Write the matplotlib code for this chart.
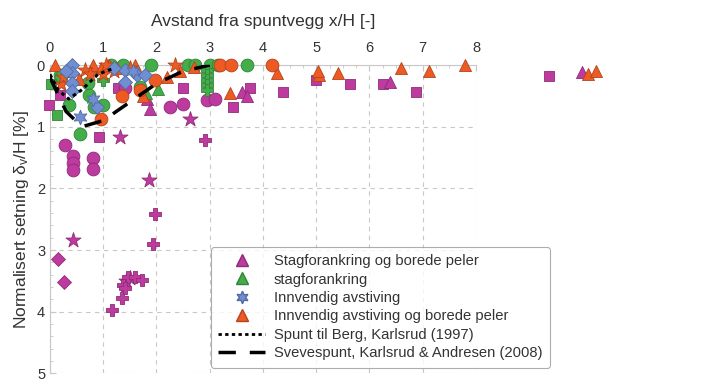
import matplotlib

matplotlib.use("Agg")

import matplotlib.pyplot as plt  # noqa: E402
from matplotlib.lines import Line2D  # noqa: E402
from matplotlib.ticker import MultipleLocator  # noqa: E402

plt.rcParams["font.family"] = ["Liberation Sans", "DejaVu Sans"]
plt.rcParams["mathtext.fontset"] = "custom"
plt.rcParams["mathtext.rm"] = "Liberation Sans"
plt.rcParams["mathtext.it"] = "Liberation Sans"

# Colours
_MAG = "#bd3a9e"
_GRN = "#43ad4a"
_BLU = "#6f8fd2"
_ORG = "#ee5a24"
_GRID = "#c8c8c8"
_FG = "#333333"

STAR6 = (6, 1, 0)

# --- Stagforankring og borede peler (magenta) ---
mag_sq_x = [-0.02, 0.19, 0.92, 1.27, 2.5, 3.44, 3.75, 4.38, 5.0, 5.63, 6.25, 6.88, 9.38]
mag_sq_y = [0.65, 0.48, 1.16, 0.37, 0.37, 0.68, 0.37, 0.43, 0.24, 0.30, 0.30, 0.43, 0.17]
mag_ci_x = [0.28, 0.43, 0.43, 0.43, 0.80, 0.80, 1.41, 2.25, 2.5, 2.94, 3.1]
mag_ci_y = [1.30, 1.48, 1.59, 1.70, 1.51, 1.68, 0.37, 0.68, 0.63, 0.56, 0.55]
mag_tr_x = [1.82, 1.88, 3.6, 3.7, 6.38, 10.0]
mag_tr_y = [0.55, 0.72, 0.44, 0.50, 0.27, 0.11]
mag_st_x = [1.31, 1.86, 2.63, 0.43, 1.5, 1.42]
mag_st_y = [1.16, 1.87, 0.87, 2.83, 3.45, 3.50]
mag_pl_x = [1.97, 1.93, 2.91, 1.16, 1.35, 1.37, 1.46, 1.6, 1.73, 1.4]
mag_pl_y = [2.41, 2.90, 1.22, 3.97, 3.78, 3.57, 3.44, 3.44, 3.49, 3.62]
mag_di_x = [0.15, 0.26]
mag_di_y = [3.14, 3.52]

# --- stagforankring (green) ---
grn_ci_x = [0.19, 0.2, 0.36, 0.56, 0.71, 0.73, 0.83, 1.0, 1.15, 1.38, 1.69, 1.9, 2.6, 2.72, 3.0, 3.15, 3.7]
grn_ci_y = [0.16, 0.20, 0.65, 1.11, 0.29, 0.49, 0.68, 0.65, 0.0, 0.0, 0.35, 0.0, 0.0, 0.0, 0.0, 0.0, 0.0]
grn_sq_x = [0.13, 0.02]
grn_sq_y = [0.81, 0.30]
grn_tr_x = [2.03, 1.8]
grn_tr_y = [0.38, 0.45]
grn_pl_x = [2.95, 2.95, 2.95, 2.95, 2.95, 1.0]
grn_pl_y = [0.08, 0.16, 0.24, 0.32, 0.40, 0.24]

# --- Innvendig avstiving (blue) ---
blu_di_x = [0.41, 0.41, 0.41, 0.41, 0.3, 1.41, 1.41, 1.63, 1.78, 0.88, 1.2]
blu_di_y = [0.0, 0.13, 0.29, 0.42, 0.10, 0.08, 0.27, 0.16, 0.16, 0.68, 0.05]
blu_st_x = [0.56, 0.8, 1.55]
blu_st_y = [0.84, 0.55, 0.10]

# --- Innvendig avstiving og borede peler (orange) ---
org_tr_x = [0.1, 0.35, 0.55, 0.8, 0.95, 1.1, 1.25, 1.6, 1.75, 2.2, 2.45, 2.7,
            3.38, 4.26, 5.05, 5.03, 5.4, 6.6, 7.12, 7.8, 10.1, 10.25]
org_tr_y = [0.0, 0.1, 0.22, 0.0, 0.05, 0.0, 0.05, 0.0, 0.5, 0.2, 0.1, 0.03,
            0.45, 0.13, 0.16, 0.10, 0.13, 0.05, 0.10, 0.0, 0.15, 0.10]
org_ci_x = [1.35, 1.97, 3.2, 3.4, 4.17, 0.95, 1.7]
org_ci_y = [0.50, 0.24, 0.0, 0.0, 0.0, 0.88, 0.40]
org_st_x = [0.65, 0.75, 1.0, 1.05, 1.2, 2.35, 1.5, 0.2, 0.25]
org_st_y = [0.08, 0.15, 0.15, 0.0, 0.10, 0.0, 0.05, 0.30, 0.20]

# --- Reference curves ---
berg_x = [0.0, 0.15, 0.35, 0.6, 0.9, 1.2]
berg_y = [0.15, 0.40, 0.55, 0.40, 0.15, 0.05]
sveve_x = [0.0, 0.3, 0.6, 1.0, 1.5, 2.0, 2.5, 3.0]
sveve_y = [0.2, 0.75, 1.0, 0.9, 0.6, 0.3, 0.1, 0.0]


def darker(c, f=0.75):
    r, g, b = matplotlib.colors.to_rgb(c)
    return (r * f, g * f, b * f)


fig = plt.figure(figsize=(7.19, 3.85), dpi=100, facecolor="white")
ax = fig.add_axes([0.0695, 0.03, 0.5925, 0.801])

groups = [
    (_MAG, [(mag_sq_x, mag_sq_y, "s"), (mag_ci_x, mag_ci_y, "o"), (mag_tr_x, mag_tr_y, "^"),
            (mag_st_x, mag_st_y, "*"), (mag_pl_x, mag_pl_y, "P"), (mag_di_x, mag_di_y, "D")]),
    (_GRN, [(grn_ci_x, grn_ci_y, "o"), (grn_sq_x, grn_sq_y, "s"), (grn_tr_x, grn_tr_y, "^"),
            (grn_pl_x, grn_pl_y, "P")]),
    (_ORG, [(org_tr_x, org_tr_y, "^"), (org_ci_x, org_ci_y, "o"), (org_st_x, org_st_y, "*")]),
    (_BLU, [(blu_di_x, blu_di_y, "D"), (blu_st_x, blu_st_y, STAR6)]),
]
sizes = {"s": 55, "o": 85, "^": 75, "*": 130, "P": 85, "D": 50}
for col, sets in groups:
    for xs, ys, m in sets:
        ax.scatter(xs, ys, s=sizes.get(m, 110), marker=m, color=col,
                   edgecolors=darker(col), linewidths=0.6, clip_on=False, zorder=3)

ax.plot(berg_x, berg_y, color="black", lw=2.2, linestyle=(0, (1.2, 1.2)), zorder=4)
ax.plot(sveve_x, sveve_y, color="black", lw=2.5, linestyle=(0, (5, 4)), zorder=4)

ax.set_xlim(0, 8)
ax.set_ylim(5, 0)
ax.xaxis.set_ticks_position("top")
ax.xaxis.set_label_position("top")
ax.set_xticks(range(0, 9))
ax.set_yticks(range(0, 6))
ax.xaxis.set_minor_locator(MultipleLocator(0.25))
ax.yaxis.set_minor_locator(MultipleLocator(0.2))
ax.tick_params(which="both", direction="in", colors=_GRID, labelcolor=_FG, labelsize=10.5)
ax.tick_params(which="major", length=4)
ax.tick_params(which="minor", length=2.5)
ax.tick_params(axis="x", pad=7)
ax.set_xlabel("Avstand fra spuntvegg x/H [-]", color=_FG, fontsize=12.5, labelpad=11)
ax.set_ylabel(r"Normalisert setning $\delta_v$/H [%]", color=_FG, fontsize=12.5, labelpad=4)
for side in ("right", "bottom"):
    ax.spines[side].set_visible(False)
for side in ("top", "left"):
    ax.spines[side].set_color(_GRID)
ax.grid(True, color=_GRID, linestyle=(0, (4, 4)), lw=0.8)
ax.set_axisbelow(True)

handles = [
    Line2D([], [], ls="none", marker="^", ms=8, color=_MAG, mec=darker(_MAG)),
    Line2D([], [], ls="none", marker="^", ms=8, color=_GRN, mec=darker(_GRN)),
    Line2D([], [], ls="none", marker=STAR6, ms=9, color=_BLU, mec=darker(_BLU)),
    Line2D([], [], ls="none", marker="^", ms=8, color=_ORG, mec=darker(_ORG)),
    Line2D([], [], color="black", lw=2, ls=(0, (1.2, 1.2))),
    Line2D([], [], color="black", lw=2.5, ls=(0, (5, 4))),
]
labels = [
    "Stagforankring og borede peler",
    "stagforankring",
    "Innvendig avstiving",
    "Innvendig avstiving og borede peler",
    "Spunt til Berg, Karlsrud (1997)",
    "Svevespunt, Karlsrud & Andresen (2008)",
]
leg = ax.legend(handles, labels, loc="lower left", bbox_to_anchor=(0.36, -0.005),
                fontsize=10.6, frameon=True, fancybox=True, handlelength=3.2,
                labelspacing=0.3, borderpad=0.5, handletextpad=0.6)
leg.get_frame().set_edgecolor("#999999")
leg.get_frame().set_linewidth(0.8)
for t in leg.get_texts():
    t.set_color(_FG)

fig.savefig("out.png", dpi=100, facecolor="white")
plt.close(fig)
